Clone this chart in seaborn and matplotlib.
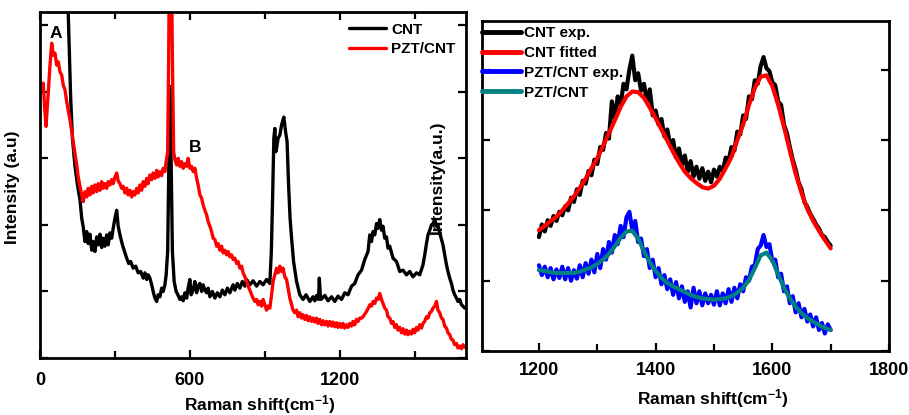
import numpy as np
import matplotlib
matplotlib.use("Agg")
import matplotlib.pyplot as plt
from matplotlib.ticker import MultipleLocator, NullFormatter
import seaborn as sns

# ---------------- data ----------------
# Left panel: full Raman spectra, [Raman shift, intensity]
cnt_spectrum = [
    [95, 6.0], [105, 5.6], [113, 5.18], [118, 4.5], [123, 3.88], [130, 3.3], [140, 2.88], [150, 2.6], [160, 2.38],
    [167, 2.1], [173, 1.97], [180, 1.75], [187, 1.90], [193, 1.72], [200, 1.86], [207, 1.62], [213, 1.75],
    [220, 1.60], [227, 1.82], [233, 1.70], [240, 1.86], [247, 1.66], [253, 1.80], [260, 1.68], [267, 1.85],
    [273, 1.70], [280, 1.88], [287, 1.80], [293, 1.95], [300, 2.10], [307, 2.22], [313, 1.98], [320, 1.85],
    [330, 1.70], [340, 1.58], [347, 1.50], [355, 1.42], [363, 1.45], [373, 1.35], [383, 1.38], [393, 1.28],
    [403, 1.30], [413, 1.20], [420, 1.28], [427, 1.18], [433, 1.25], [440, 1.20], [447, 1.10], [453, 1.00],
    [460, 0.90], [467, 0.85], [473, 0.95], [480, 0.92], [487, 1.05], [493, 1.00], [500, 1.10], [505, 1.25],
    [511, 1.60], [516, 3.00], [520, 4.08], [524, 3.20], [530, 1.60], [537, 1.15], [545, 1.00], [552, 0.95],
    [560, 0.88], [567, 0.92], [573, 0.86], [580, 0.98], [587, 0.90], [593, 1.05], [600, 1.18], [605, 0.95],
    [613, 1.02], [620, 1.15], [627, 0.98], [633, 1.08], [640, 1.12], [647, 1.00], [653, 1.10], [660, 1.02],
    [667, 0.98], [673, 1.05], [680, 0.92], [690, 1.00], [700, 0.90], [710, 0.98], [720, 0.92], [730, 1.02],
    [740, 0.95], [750, 1.05], [760, 0.98], [773, 1.10], [780, 1.02], [790, 1.12], [800, 1.05], [810, 1.15],
    [820, 1.08], [827, 1.18], [840, 1.10], [853, 1.16], [867, 1.08], [880, 1.15], [893, 1.10], [907, 1.18],
    [920, 1.12], [926, 1.60], [931, 2.40], [936, 3.30], [940, 3.45], [944, 3.10], [947, 3.15], [953, 3.30],
    [960, 3.35], [967, 3.50], [976, 3.62], [983, 3.40], [989, 3.25], [995, 2.60], [1001, 2.10], [1007, 1.80],
    [1015, 1.45], [1027, 1.15], [1040, 0.95], [1053, 0.88], [1065, 0.95], [1080, 0.85], [1093, 0.92],
    [1100, 0.86], [1107, 0.94], [1115, 0.88], [1118, 1.20], [1122, 0.95], [1125, 0.88], [1140, 0.94],
    [1153, 0.86], [1167, 0.92], [1180, 0.85], [1193, 0.93], [1207, 0.88], [1220, 0.98], [1233, 0.95],
    [1247, 1.08], [1260, 1.12], [1273, 1.25], [1287, 1.32], [1300, 1.48], [1313, 1.60], [1320, 1.85],
    [1327, 1.75], [1333, 1.90], [1340, 1.85], [1347, 2.02], [1353, 1.95], [1360, 2.08], [1367, 1.92],
    [1373, 1.98], [1380, 1.80], [1387, 1.82], [1393, 1.65], [1400, 1.68], [1413, 1.50], [1427, 1.45],
    [1440, 1.30], [1453, 1.32], [1467, 1.25], [1480, 1.30], [1493, 1.22], [1507, 1.28], [1520, 1.25],
    [1533, 1.40], [1540, 1.55], [1547, 1.72], [1553, 1.85], [1560, 1.92], [1567, 2.00], [1573, 2.02],
    [1580, 2.08], [1587, 1.98], [1593, 2.00], [1600, 1.88], [1607, 1.78], [1613, 1.70], [1620, 1.55],
    [1627, 1.40], [1633, 1.30], [1640, 1.20], [1647, 1.12], [1653, 1.02], [1660, 0.95], [1667, 0.90],
    [1673, 0.85], [1680, 0.88], [1687, 0.80], [1693, 0.78], [1700, 0.75],
]
pzt_spectrum = [
    [13, 4.13], [18, 3.80], [24, 3.48], [28, 3.70], [33, 3.98], [40, 4.40], [47, 4.73], [53, 4.55], [60, 4.58],
    [67, 4.40], [73, 4.45], [80, 4.30], [87, 4.25], [93, 4.10], [100, 4.03], [107, 3.85], [113, 3.72],
    [120, 3.58], [127, 3.40], [133, 3.25], [140, 3.08], [147, 2.90], [153, 2.72], [160, 2.58], [167, 2.45],
    [173, 2.35], [180, 2.50], [187, 2.42], [193, 2.55], [200, 2.45], [207, 2.58], [213, 2.48], [220, 2.60],
    [227, 2.50], [233, 2.62], [240, 2.52], [247, 2.65], [253, 2.55], [260, 2.62], [267, 2.55], [273, 2.65],
    [280, 2.60], [287, 2.68], [293, 2.62], [300, 2.72], [307, 2.78], [313, 2.66], [320, 2.62], [327, 2.55],
    [333, 2.58], [340, 2.48], [347, 2.55], [353, 2.45], [360, 2.52], [367, 2.42], [373, 2.50], [380, 2.45],
    [387, 2.55], [393, 2.48], [400, 2.60], [407, 2.52], [413, 2.65], [420, 2.58], [427, 2.70], [433, 2.62],
    [440, 2.75], [447, 2.68], [453, 2.78], [460, 2.70], [467, 2.82], [473, 2.72], [480, 2.80], [487, 2.74],
    [493, 2.85], [500, 2.80], [505, 2.95], [511, 3.10], [515, 4.50], [518, 6.0], [526, 6.0], [530, 4.50],
    [535, 3.10], [540, 2.98], [547, 2.90], [553, 3.00], [560, 2.88], [567, 2.95], [573, 2.85], [580, 2.92],
    [587, 2.88], [593, 3.00], [600, 2.85], [607, 2.88], [613, 2.80], [620, 2.85], [627, 2.70], [633, 2.60],
    [640, 2.45], [647, 2.40], [653, 2.30], [660, 2.22], [667, 2.15], [673, 2.05], [680, 1.98], [687, 1.90],
    [693, 1.80], [700, 1.78], [707, 1.68], [713, 1.72], [720, 1.62], [727, 1.68], [733, 1.58], [740, 1.62],
    [747, 1.55], [753, 1.60], [760, 1.52], [767, 1.55], [773, 1.48], [780, 1.50], [787, 1.42], [793, 1.45],
    [800, 1.35], [807, 1.38], [813, 1.28], [820, 1.22], [827, 1.15], [833, 1.08], [840, 1.02], [847, 0.95],
    [853, 0.90], [860, 0.85], [867, 0.88], [873, 0.80], [880, 0.85], [887, 0.78], [893, 0.88], [900, 0.80],
    [907, 0.72], [913, 0.78], [920, 0.75], [927, 0.95], [933, 1.15], [940, 1.25], [947, 1.35], [953, 1.28],
    [960, 1.38], [967, 1.30], [973, 1.35], [980, 1.22], [987, 1.18], [993, 1.05], [1000, 0.90], [1007, 0.80],
    [1013, 0.72], [1020, 0.68], [1027, 0.72], [1033, 0.62], [1040, 0.68], [1047, 0.60], [1053, 0.65],
    [1060, 0.58], [1067, 0.64], [1073, 0.56], [1080, 0.62], [1087, 0.55], [1093, 0.60], [1100, 0.54],
    [1107, 0.60], [1113, 0.52], [1120, 0.58], [1127, 0.50], [1133, 0.56], [1140, 0.50], [1147, 0.55],
    [1153, 0.48], [1160, 0.55], [1167, 0.48], [1173, 0.54], [1180, 0.47], [1187, 0.53], [1193, 0.46],
    [1200, 0.52], [1207, 0.46], [1213, 0.52], [1220, 0.45], [1227, 0.50], [1233, 0.46], [1240, 0.52],
    [1247, 0.48], [1253, 0.55], [1260, 0.50], [1267, 0.58], [1273, 0.55], [1280, 0.60], [1287, 0.60],
    [1293, 0.62], [1300, 0.66], [1307, 0.70], [1313, 0.74], [1320, 0.80], [1327, 0.78], [1333, 0.85],
    [1340, 0.82], [1347, 0.90], [1353, 0.88], [1360, 0.97], [1367, 0.88], [1373, 0.82], [1380, 0.75],
    [1387, 0.72], [1393, 0.62], [1400, 0.60], [1407, 0.52], [1413, 0.55], [1420, 0.46], [1427, 0.50],
    [1433, 0.42], [1440, 0.46], [1447, 0.38], [1453, 0.44], [1460, 0.36], [1467, 0.42], [1473, 0.35],
    [1480, 0.40], [1487, 0.36], [1493, 0.43], [1500, 0.38], [1507, 0.46], [1513, 0.42], [1520, 0.50],
    [1527, 0.45], [1533, 0.52], [1540, 0.55], [1547, 0.62], [1553, 0.60], [1560, 0.68], [1567, 0.70],
    [1573, 0.75], [1580, 0.78], [1587, 0.85], [1593, 0.72], [1600, 0.68], [1607, 0.60], [1613, 0.58],
    [1620, 0.48], [1627, 0.45], [1633, 0.38], [1640, 0.35], [1647, 0.28], [1653, 0.27], [1660, 0.20],
    [1667, 0.22], [1673, 0.15], [1680, 0.18], [1687, 0.14], [1693, 0.20], [1700, 0.16],
]

# Right panel: D and G bands, experimental (5 cm-1 step) and fitted (10 cm-1 step)
x_exp = np.arange(1200, 1701, 5)
cnt_exp = [1.62, 1.80, 1.70, 1.86, 1.78, 1.92, 1.85, 1.98, 1.93, 2.06,
           2.00, 2.18, 2.12, 2.30, 2.22, 2.42, 2.38, 2.56, 2.50, 2.72,
           2.66, 2.90, 2.86, 3.10, 3.02, 3.55, 3.30, 3.62, 3.50, 3.80,
           3.72, 4.00, 4.20, 3.85, 3.95, 3.70, 3.80, 3.55, 3.72, 3.35,
           3.42, 3.22, 3.30, 3.05, 3.15, 2.92, 3.00, 2.75, 2.88, 2.65,
           2.78, 2.55, 2.70, 2.48, 2.62, 2.45, 2.60, 2.42, 2.55, 2.40,
           2.58, 2.48, 2.62, 2.55, 2.75, 2.70, 2.90, 2.85, 3.12, 3.08,
           3.35, 3.30, 3.62, 3.58, 3.85, 3.80, 4.05, 4.18, 4.02, 3.98,
           3.82, 3.78, 3.55, 3.50, 3.22, 3.10, 2.90, 2.72, 2.58, 2.40,
           2.30, 2.12, 2.05, 1.95, 1.88, 1.80, 1.74, 1.65, 1.62, 1.55,
           1.50]
pzt_exp = [1.22, 1.08, 1.20, 1.05, 1.18, 1.02, 1.16, 1.04, 1.20, 1.02,
           1.18, 1.00, 1.15, 1.03, 1.22, 1.05, 1.25, 1.10, 1.30, 1.12,
           1.38, 1.18, 1.45, 1.30, 1.55, 1.40, 1.65, 1.52, 1.78, 1.62,
           1.90, 1.98, 1.72, 1.85, 1.55, 1.60, 1.35, 1.45, 1.18, 1.30,
           1.05, 1.18, 0.95, 1.08, 0.88, 1.02, 0.80, 0.98, 0.75, 0.92,
           0.70, 0.85, 0.62, 0.90, 0.68, 0.85, 0.65, 0.82, 0.68, 0.80,
           0.66, 0.85, 0.65, 0.82, 0.68, 0.88, 0.70, 0.90, 0.75, 0.95,
           0.85, 1.05, 1.00, 1.20, 1.22, 1.45, 1.50, 1.65, 1.48, 1.52,
           1.28, 1.30, 1.05, 1.10, 0.85, 0.92, 0.68, 0.78, 0.55, 0.68,
           0.48, 0.60, 0.42, 0.52, 0.35, 0.48, 0.30, 0.40, 0.25, 0.38,
           0.30]
x_fit = np.arange(1200, 1701, 10)
cnt_fit = [1.72, 1.78, 1.85, 1.91, 2.00, 2.10, 2.20, 2.32, 2.45, 2.60,
           2.74, 2.92, 3.10, 3.28, 3.47, 3.62, 3.69, 3.68, 3.60, 3.46,
           3.31, 3.15, 2.99, 2.83, 2.68, 2.55, 2.46, 2.39, 2.33, 2.31,
           2.35, 2.45, 2.60, 2.76, 3.00, 3.22, 3.50, 3.74, 3.90, 3.92,
           3.77, 3.50, 3.19, 2.85, 2.52, 2.25, 2.02, 1.85, 1.71, 1.58,
           1.46]
pzt_fit = [1.15, 1.14, 1.12, 1.11, 1.11, 1.11, 1.11, 1.13, 1.16, 1.19,
           1.24, 1.30, 1.38, 1.49, 1.61, 1.70, 1.71, 1.60, 1.42, 1.26,
           1.14, 1.04, 0.97, 0.92, 0.88, 0.84, 0.80, 0.77, 0.75, 0.74,
           0.73, 0.74, 0.75, 0.78, 0.83, 0.90, 1.01, 1.18, 1.36, 1.40,
           1.29, 1.09, 0.90, 0.75, 0.63, 0.54, 0.47, 0.42, 0.37, 0.33,
           0.30]

left_labels = ["CNT", "PZT/CNT"]
right_labels = ["CNT exp.", "CNT fitted", "PZT/CNT exp.", "PZT/CNT"]
xlabel = r"Raman shift(cm$^{\mathbf{-1}}$)"

cnt_arr = np.array(cnt_spectrum)
pzt_arr = np.array(pzt_spectrum)

# ---------------- style ----------------
sns.set_style("ticks")
plt.rcParams["font.family"] = ["Liberation Sans", "DejaVu Sans"]
plt.rcParams["font.weight"] = "bold"
plt.rcParams["text.color"] = "black"
plt.rcParams["axes.labelcolor"] = "black"
plt.rcParams["xtick.color"] = "black"
plt.rcParams["ytick.color"] = "black"
plt.rcParams["mathtext.fontset"] = "custom"
plt.rcParams["mathtext.rm"] = "Liberation Sans:bold"
plt.rcParams["mathtext.bf"] = "Liberation Sans:bold"
plt.rcParams["mathtext.it"] = "Liberation Sans:bold"

fig = plt.figure(figsize=(9.09, 4.15), dpi=100)
ax1 = fig.add_axes([0.044, 0.1373, 0.4686, 0.834])
ax2 = fig.add_axes([0.530, 0.154, 0.448, 0.795])

def style_axes(ax):
    for s in ax.spines.values():
        s.set_linewidth(2.0)
        s.set_color("black")
        s.set_visible(True)
    ax.tick_params(which="both", direction="in", top=True, right=True, width=1.6,
                   colors="black", labelcolor="black")
    ax.tick_params(which="major", length=6)
    ax.tick_params(which="minor", length=5)
    ax.yaxis.set_major_formatter(NullFormatter())

# ---------------- left panel ----------------
sns.lineplot(x=cnt_arr[:, 0], y=cnt_arr[:, 1], ax=ax1, color="black", lw=2.4,
             label=left_labels[0], estimator=None, sort=False)
sns.lineplot(x=pzt_arr[:, 0], y=pzt_arr[:, 1], ax=ax1, color="red", lw=2.4,
             label=left_labels[1], estimator=None, sort=False)
ax1.set_xlim(0, 1705)
ax1.set_ylim(0, 5.2)
ax1.xaxis.set_major_locator(MultipleLocator(600))
ax1.xaxis.set_minor_locator(MultipleLocator(300))
ax1.yaxis.set_major_locator(MultipleLocator(1))
style_axes(ax1)
ax1.tick_params(axis="x", labelsize=13, pad=10)
for t in ax1.get_xticklabels():
    t.set_fontweight("bold")
ax1.set_xlabel(xlabel, fontsize=12.5, fontweight="bold", color="black")
ax1.xaxis.label.set_va("center")
ax1.xaxis.set_label_coords(0.516, -0.134)
ax1.set_ylabel("Intensity (a.u)", fontsize=12.5, fontweight="bold", color="black")
ax1.yaxis.set_label_coords(-0.047, 0.494)
ax1.text(64, 4.87, "A", fontsize=12.5, fontweight="bold", ha="center", va="center", color="black")
ax1.text(620, 3.17, "B", fontsize=12.5, fontweight="bold", ha="center", va="center", color="black")
ax1.text(1592, 2.72, "Intensity(a.u.)", rotation=90, fontsize=12.5, fontweight="bold",
         ha="center", va="center", zorder=1, color="black")
leg1 = ax1.legend(loc="upper right", bbox_to_anchor=(1.0, 1.0), frameon=False, fontsize=11,
                  handlelength=2.4, handletextpad=0.35, labelspacing=0.35, borderaxespad=0.3)
for t in leg1.get_texts():
    t.set_fontweight("bold")
    t.set_color("black")

# ---------------- right panel ----------------
sns.lineplot(x=x_exp, y=cnt_exp, ax=ax2, color="black", lw=3.0, label=right_labels[0], estimator=None)
sns.lineplot(x=x_fit, y=cnt_fit, ax=ax2, color="red", lw=3.0, label=right_labels[1], estimator=None)
sns.lineplot(x=x_exp, y=pzt_exp, ax=ax2, color="blue", lw=3.0, label=right_labels[2], estimator=None)
sns.lineplot(x=x_fit, y=pzt_fit, ax=ax2, color="#008080", lw=3.0, label=right_labels[3], estimator=None)
ax2.set_xlim(1102, 1800)
ax2.set_ylim(0, 4.69)
ax2.xaxis.set_major_locator(MultipleLocator(200))
ax2.xaxis.set_minor_locator(MultipleLocator(100))
ax2.yaxis.set_major_locator(MultipleLocator(1))
style_axes(ax2)
ax2.tick_params(axis="x", which="both", top=False)
ax2.tick_params(axis="x", labelsize=13, pad=8)
for t in ax2.get_xticklabels():
    t.set_fontweight("bold")
ax2.set_xlabel(xlabel, fontsize=12.5, fontweight="bold", color="black")
ax2.xaxis.label.set_va("center")
ax2.xaxis.set_label_coords(0.567, -0.145)
leg2 = ax2.legend(loc="upper left", bbox_to_anchor=(0.0, 0.985), frameon=False, fontsize=11,
                  handlelength=2.6, handletextpad=0.15, labelspacing=0.38, borderaxespad=0.0,
                  borderpad=0.0)
for t in leg2.get_texts():
    t.set_fontweight("bold")
    t.set_color("black")
for h in leg2.get_lines():
    h.set_linewidth(3.5)

fig.savefig("out.png", dpi=100)
